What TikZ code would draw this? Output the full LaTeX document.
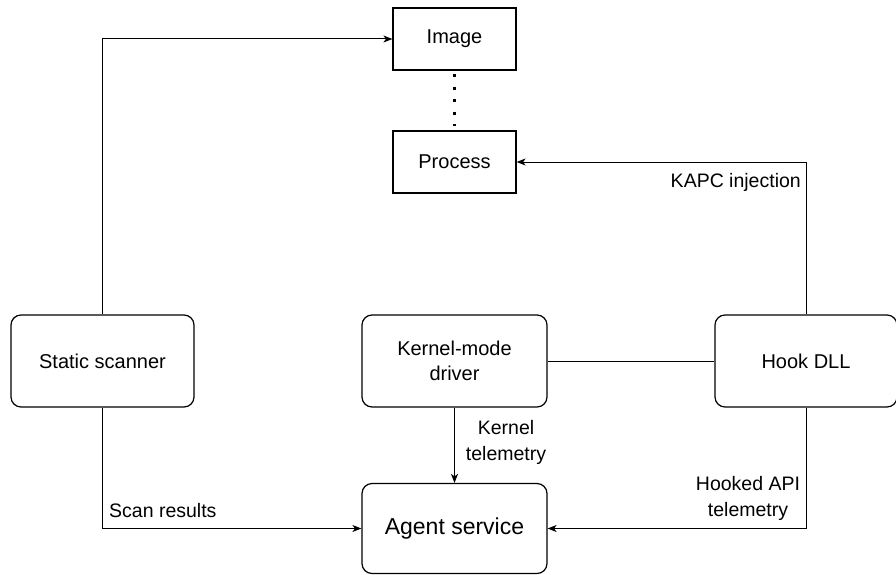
\documentclass[tikz,border=0pt]{standalone}
\usepackage{fontspec}
\setmainfont{Liberation Sans}
\usetikzlibrary{arrows.meta}
\begin{document}
\begin{tikzpicture}[x=1pt,y=-1pt,
  box/.style={draw=black, line width=1.2pt, inner sep=0pt, align=center, font=\fontsize{20}{24.5}\selectfont},
  sharpbox/.style={box, minimum width=123pt, minimum height=62pt},
  roundbox/.style={box, rounded corners=10pt, minimum height=92pt},
  conn/.style={line width=1pt},
  arr/.style={conn, -{Stealth[length=9pt,width=7pt,inset=2.5pt]}},
  dotline/.style={line width=3pt, dash pattern=on 3pt off 9.5pt, shorten <=3.5pt, shorten >=4.5pt},
  lbl/.style={inner sep=0pt, align=center, font=\fontsize{19.5}{26}\selectfont}]
\useasboundingbox (0,0) rectangle (896,575);
\node[sharpbox] (image) at (454.5,39) {Image};
\node[sharpbox] (process) at (454.5,162) {Process};
\node[roundbox, minimum width=183pt] (scanner) at (102.5,361) {Static scanner};
\node[roundbox, minimum width=185pt] (driver) at (454.5,361) {Kernel-mode\\driver};
\node[roundbox, minimum width=182pt] (hook) at (806,361) {Hook DLL};
\node[roundbox, minimum width=185pt, minimum height=90pt, font=\fontsize{23}{28}\selectfont] (agent) at (454.5,528.5) {Agent service};
\draw[dotline] (image.south) -- (process.north);
\draw[arr] (scanner.north) |- (image.west);
\draw[arr] (hook.north) |- (process.east);
\draw[conn] (driver.east) -- (hook.west);
\draw[arr] (driver.south) -- (agent.north);
\draw[arr] (scanner.south) |- (agent.west);
\draw[arr] (hook.south) |- (agent.east);
\node[lbl, anchor=east] (kapc) at (801,182) {KAPC injection};
\node[lbl, anchor=west] (scanlbl) at (109,511) {Scan results};
\node[lbl] (ktel) at (506,442) {Kernel\\telemetry};
\node[lbl] (htel) at (748,498) {Hooked API\\telemetry};
\end{tikzpicture}
\end{document}
